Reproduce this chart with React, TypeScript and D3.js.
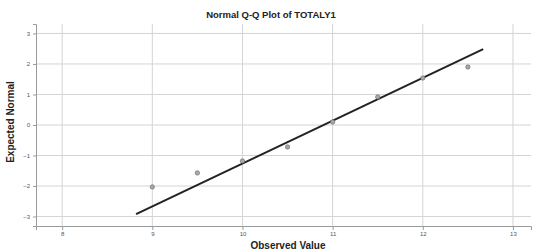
import React, { useRef, useEffect } from 'react';
import * as d3 from 'd3';

// observed values and their expected normal values
const observed = [9, 9.5, 10, 10.5, 11, 11.5, 12, 12.5];
const expected = [-2.03, -1.57, -1.18, -0.72, 0.1, 0.92, 1.54, 1.9];
const xTicks = [8, 9, 10, 11, 12, 13];
const yTicks = [-3, -2, -1, 0, 1, 2, 3];
// reference line: expected = (x - mean) / sd
const lineMean = 10.9;
const lineSd = 0.712;
const lineRange = [8.82, 12.67];

const App = () => {
  const svgRef = useRef<SVGSVGElement>(null);
  const width = 537;
  const height = 251;

  useEffect(() => {
    const svg = d3.select(svgRef.current);
    svg.selectAll('*').remove();

    const x = d3.scaleLinear().domain([7.71, 13.2]).range([36, 531]);
    const y = d3.scaleLinear().domain([-3.31, 3.31]).range([226, 24]);

    const g = svg.append('g').attr('font-family', 'Arial, "Liberation Sans", sans-serif');

    // gridlines
    g.selectAll('.vgrid')
      .data(xTicks)
      .enter()
      .append('line')
        .attr('x1', d => x(d))
        .attr('x2', d => x(d))
        .attr('y1', y.range()[1])
        .attr('y2', y.range()[0])
        .attr('stroke', '#d4d4d4')
        .attr('stroke-width', 1);
    g.selectAll('.hgrid')
      .data(yTicks)
      .enter()
      .append('line')
        .attr('x1', x.range()[0])
        .attr('x2', x.range()[1])
        .attr('y1', d => y(d))
        .attr('y2', d => y(d))
        .attr('stroke', '#d4d4d4')
        .attr('stroke-width', 1);

    // axes
    const xAxis = g.append('g')
      .attr('transform', `translate(0,${y.range()[0]})`)
      .call(d3.axisBottom(x).tickValues(xTicks).tickSize(4).tickFormat(d3.format('d')));
    const yAxis = g.append('g')
      .attr('transform', `translate(${x.range()[0]},0)`)
      .call(d3.axisLeft(y).tickValues(yTicks).tickSize(3).tickFormat(d3.format('d')));
    [xAxis, yAxis].forEach(a => {
      a.select('.domain').attr('stroke', '#9a9a9a');
      a.selectAll('.tick line').attr('stroke', '#9a9a9a');
      a.selectAll('.tick text')
        .attr('fill', '#555')
        .attr('font-size', 6)
        .attr('font-family', 'Arial, "Liberation Sans", sans-serif');
    });
    xAxis.selectAll('.tick text').attr('dy', '0.5em');

    // reference line
    g.append('line')
      .attr('x1', x(lineRange[0]))
      .attr('y1', y((lineRange[0] - lineMean) / lineSd))
      .attr('x2', x(lineRange[1]))
      .attr('y2', y((lineRange[1] - lineMean) / lineSd))
      .attr('stroke', '#222')
      .attr('stroke-width', 2);

    // points
    g.selectAll('.pt')
      .data(observed)
      .enter()
      .append('circle')
        .attr('cx', d => x(d))
        .attr('cy', (d, i) => y(expected[i]))
        .attr('r', 2.2)
        .attr('fill', '#a8a8a8')
        .attr('stroke', '#666')
        .attr('stroke-width', 0.6);

    // title and axis labels
    g.append('text')
      .attr('x', 271)
      .attr('y', 18)
      .attr('text-anchor', 'middle')
      .attr('font-size', 9.5)
      .attr('font-weight', 'bold')
      .attr('fill', '#222')
      .text('Normal Q-Q Plot of TOTALY1');
    g.append('text')
      .attr('x', 288)
      .attr('y', 249)
      .attr('text-anchor', 'middle')
      .attr('font-size', 10)
      .attr('font-weight', 'bold')
      .attr('fill', '#222')
      .text('Observed Value');
    g.append('text')
      .attr('transform', 'translate(14,122) rotate(-90)')
      .attr('text-anchor', 'middle')
      .attr('font-size', 10)
      .attr('font-weight', 'bold')
      .attr('fill', '#222')
      .text('Expected Normal');
  }, []);

  return (
    <svg
      ref={svgRef}
      width={width}
      height={height}
      style={{ position: 'absolute', left: 0, top: 0, background: '#fff' }}
    ></svg>
  );
};

export default App;
